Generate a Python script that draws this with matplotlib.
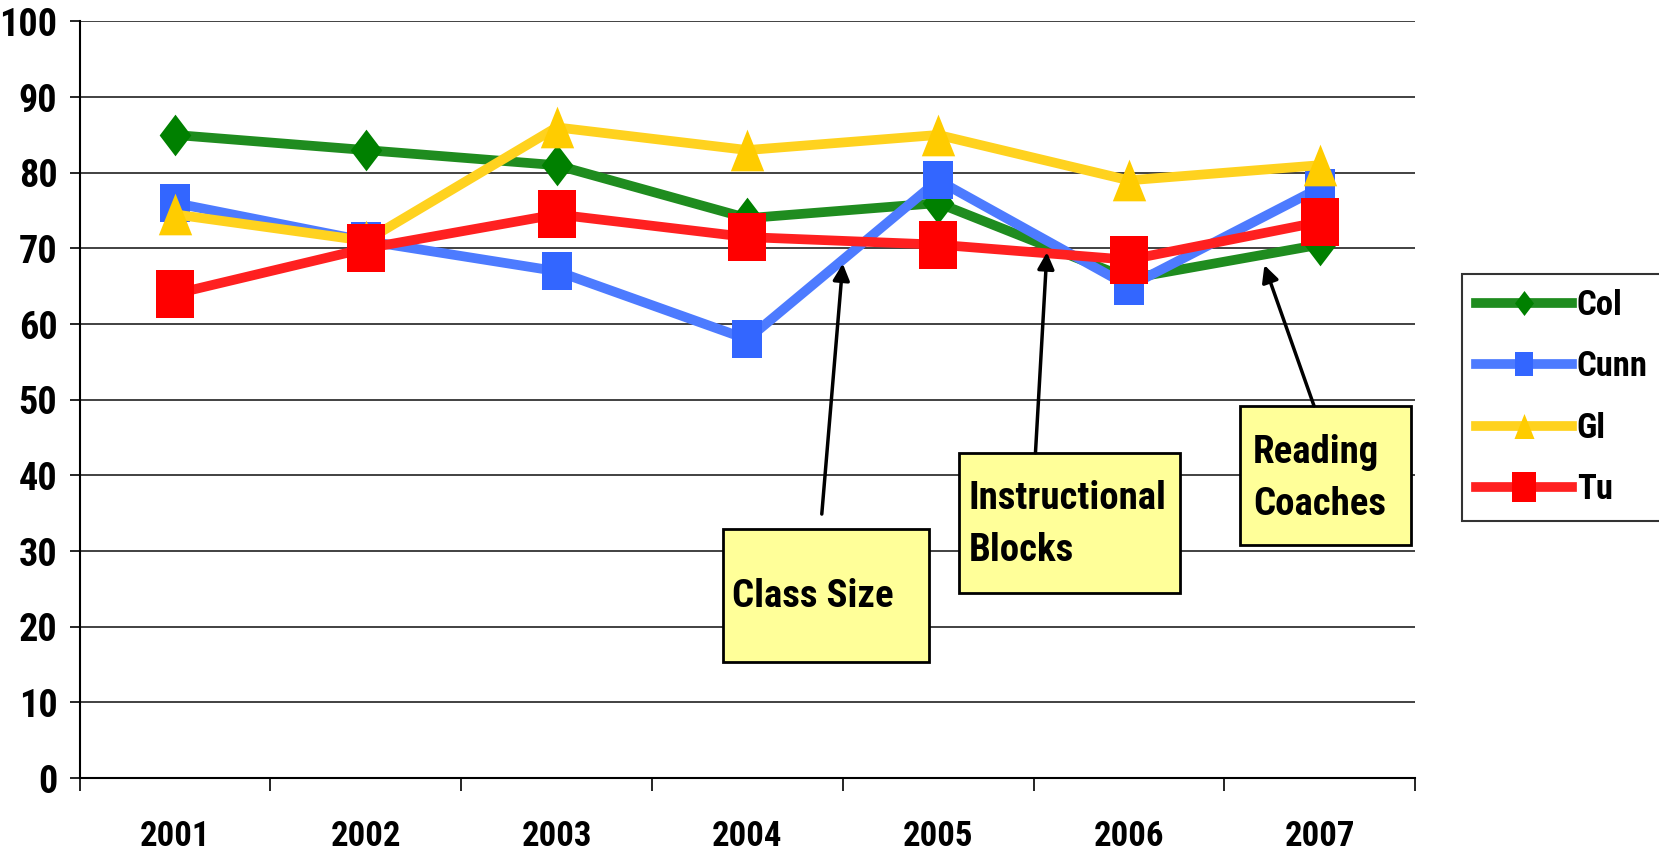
import matplotlib.pyplot as plt
from matplotlib import font_manager
from matplotlib.patches import Rectangle
import numpy as np

# Données
years = ["2001", "2002", "2003", "2004", "2005", "2006", "2007"]
col = [85, 83, 81, 74, 76, 66, 70.5]
cunn = [76, 71, 67, 58, 79, 65, 78]
gl = [74.5, 71, 86, 83, 85, 79, 81]
tu = [64, 70, 74.5, 71.5, 70.5, 68.5, 73.5]

# police étroite si disponible
installed = {f.name for f in font_manager.fontManager.ttflist}
narrow = None
for name in ['Liberation Sans Narrow', 'Arial Narrow', 'DejaVu Sans Condensed',
             'Roboto Condensed', 'Open Sans Condensed']:
    if name in installed:
        narrow = name
        break
if narrow is None:
    narrow = 'Liberation Sans'
    scale = 0.82
else:
    scale = 1.0
plt.rcParams['font.family'] = [narrow, 'DejaVu Sans']
plt.rcParams['font.weight'] = 'bold'

fig = plt.figure(figsize=(16.59, 8.57), dpi=100)
ax = fig.add_axes([0.048, 0.092, 0.805, 0.883])

x = np.arange(len(years))

# marqueurs personnalisés (un peu plus hauts que larges)
diamond = [(0, 0.5), (0.38, 0), (0, -0.5), (-0.38, 0)]
rect_b = [(-0.38, -0.5), (0.38, -0.5), (0.38, 0.5), (-0.38, 0.5)]
tri = [(0, 0.5), (0.4, -0.5), (-0.4, -0.5)]
rect_r = [(-0.4, -0.5), (0.4, -0.5), (0.4, 0.5), (-0.4, 0.5)]

series = [
    ("Col", col, '#008000', '#1F8C1F', diamond, 30),
    ("Cunn", cunn, '#3366FF', '#4D7BFF', rect_b, 28),
    ("Gl", gl, '#FFCC00', '#FFD21F', tri, 30),
    ("Tu", tu, '#FF0000', '#FF2020', rect_r, 35),
]

for i, (name, vals, c, lc, m, ms) in enumerate(series):
    ax.plot(x, vals, color=lc, lw=7, marker=m, markersize=ms,
            markerfacecolor=c, markeredgewidth=0, label=name, zorder=3 + i)

ax.set_xlim(-0.5, 6.5)
ax.set_ylim(0, 100)

fs = 26 * scale
ax.set_yticks(np.arange(0, 101, 10))
ax.yaxis.grid(True, color='#333333', linewidth=1.3)
ax.set_axisbelow(True)
ax.tick_params(axis='y', direction='out', length=7, width=1.2, pad=9, labelsize=fs * 1.06)

ax.set_xticks(np.arange(-0.5, 7, 1))
ax.set_xticklabels([])
ax.set_xticks(x, minor=True)
ax.set_xticklabels(years, minor=True)
ax.tick_params(axis='x', which='major', direction='out', length=9, width=1.2)
ax.tick_params(axis='x', which='minor', length=0, pad=30, labelsize=25 * scale)

for s in ['top', 'right']:
    ax.spines[s].set_visible(False)
for s in ['left', 'bottom']:
    ax.spines[s].set_linewidth(1.5)
    ax.spines[s].set_color('black')

# boites d'annotation
boxes = [
    ("Class Size", 2.87, 15.4, 1.08, 17.5, 2.92, 24.0, (3.39, 34.9), (3.5, 68.0)),
    ("Instructional\nBlocks", 4.11, 24.5, 1.16, 18.5, 4.16, 33.5, (4.51, 43.0), (4.57, 69.5)),
    ("Reading\nCoaches", 5.58, 30.8, 0.9, 18.4, 5.65, 39.6, (5.97, 49.2), (5.71, 67.8)),
]
for txt, bx, by, bw, bh, tx, ty, tail, tip in boxes:
    ax.add_patch(Rectangle((bx, by), bw, bh, facecolor='#FFFF99', edgecolor='black',
                           linewidth=2, zorder=10))
    ax.text(tx, ty, txt, ha='left', va='center', fontsize=28 * scale, fontweight='bold',
            linespacing=1.5, zorder=11)
    ax.annotate("", xy=tip, xytext=tail,
                arrowprops=dict(arrowstyle='-|>', color='black', lw=2.5,
                                mutation_scale=25, shrinkA=0, shrinkB=0),
                zorder=12)

leg = ax.legend(loc='upper left', bbox_to_anchor=(0.881, 0.68),
                bbox_transform=fig.transFigure, fontsize=25 * scale, frameon=True,
                fancybox=False, edgecolor='black', markerscale=0.6,
                handlelength=2.75, handletextpad=0.15, labelspacing=0.82,
                borderpad=0.42, borderaxespad=0)
leg.get_frame().set_linewidth(1.5)

fig.savefig("out.png", dpi=100)
